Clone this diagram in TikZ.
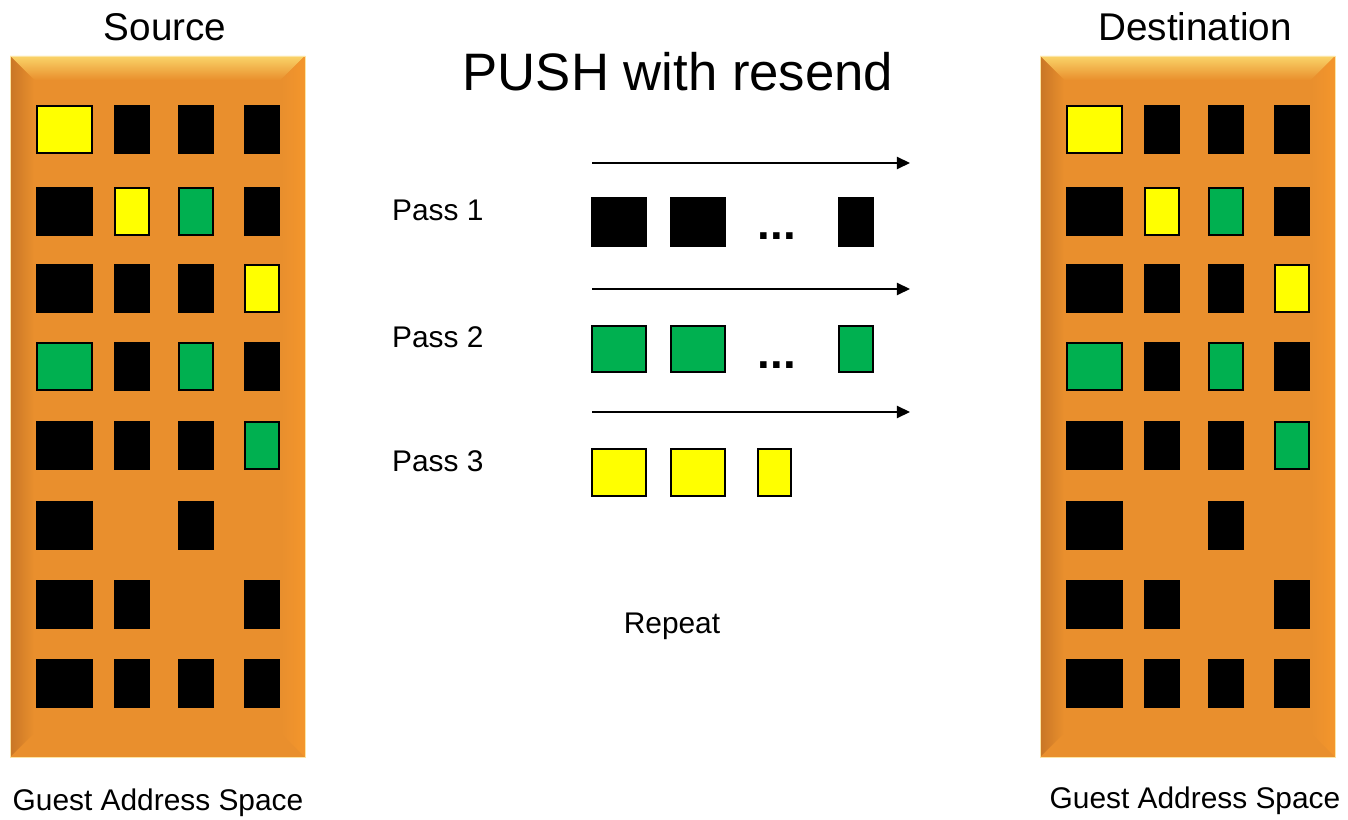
\documentclass[tikz,border=0pt]{standalone}
\usepackage{fontspec}
\setmainfont{Liberation Sans}
\usetikzlibrary{arrows.meta}

\definecolor{hausorange}{RGB}{233,143,45}
\definecolor{kantehell}{RGB}{250,212,105}
\definecolor{kantedunkel}{RGB}{200,118,38}
\definecolor{kanterechts}{RGB}{244,150,44}
\definecolor{gelb}{RGB}{255,255,0}
\definecolor{gruen}{RGB}{0,176,80}

\tikzset{
	pfeil/.style={line width=0.8pt, -{Triangle[length=7.5pt, width=7pt]}},
	gross/.style={font=\fontsize{22}{26}\selectfont},
	titelschrift/.style={font=\fontsize{30}{36}\selectfont},
	klein/.style={font=\fontsize{17}{20}\selectfont}
}

\begin{document}
\begin{tikzpicture}[x=0.02cm, y=-0.02cm]
	\useasboundingbox (0,0) rectangle (1348,820);

	% Gebaeude links und rechts
	\foreach \dx in {0,1030} {
		\fill[hausorange] (10+\dx,56) rectangle (305+\dx,757);
		\shade[top color=kantehell, bottom color=hausorange] (10+\dx,56) -- (305+\dx,56)
		-- (281+\dx,80) -- (34+\dx,80) -- cycle;
		\shade[left color=kantedunkel, right color=hausorange] (10+\dx,56) -- (34+\dx,80)
		-- (34+\dx,733) -- (10+\dx,757) -- cycle;
		\shade[left color=hausorange, right color=kanterechts] (305+\dx,56) -- (281+\dx,80)
		-- (281+\dx,733) -- (305+\dx,757) -- cycle;
		\draw[line width=0.4pt, draw=kantehell!60] (10+\dx,56) rectangle (305+\dx,757);
		% Fenster
		\foreach \c/\r/\f in {1/1/gelb, 2/1/black, 3/1/black, 4/1/black,
			1/2/black, 2/2/gelb, 3/2/gruen, 4/2/black,
			1/3/black, 2/3/black, 3/3/black, 4/3/gelb,
			1/4/gruen, 2/4/black, 3/4/gruen, 4/4/black,
			1/5/black, 2/5/black, 3/5/black, 4/5/gruen,
			1/6/black, 3/6/black,
			1/7/black, 2/7/black, 4/7/black,
			1/8/black, 2/8/black, 3/8/black, 4/8/black} {
			\pgfmathsetmacro{\xl}{{37,115,179,245}[\c-1]+\dx}
			\pgfmathsetmacro{\w}{\c==1 ? 55 : 34}
			\pgfmathsetmacro{\yt}{{106,188,265,343,422,502,581,660}[\r-1]}
			\filldraw[line width=0.7pt, draw=black, fill=\f] (\xl,\yt) rectangle (\xl+\w,\yt+47);
		}
	}

	% Beschriftungen
	\node[gross] (quelle) at (165,27) {Source};
	\node[gross] (ziel) at (1195,27) {Destination};
	\node[titelschrift] (titel) at (678,72) {PUSH with resend};
	\node[klein] (gasl) at (158,803) {Guest Address Space};
	\node[klein] (gasr) at (1195,801) {Guest Address Space};

	% Durchlaeufe
	\node[klein, anchor=west] (pass1) at (386,210) {Pass 1};
	\node[klein, anchor=west] (pass2) at (386,337) {Pass 2};
	\node[klein, anchor=west] (pass3) at (386,461) {Pass 3};
	\node[klein] (repeat) at (672,626) {Repeat};

	% Pfeile
	\coordinate (p1a) at (592,163);
	\coordinate (p1b) at (910,163);
	\coordinate (p2a) at (592,289);
	\coordinate (p2b) at (910,289);
	\coordinate (p3a) at (592,412);
	\coordinate (p3b) at (910,412);
	\draw[pfeil] (p1a) -- (p1b);
	\draw[pfeil] (p2a) -- (p2b);
	\draw[pfeil] (p3a) -- (p3b);

	% Seiten
	\foreach \x/\w in {592/54, 671/54, 839/34}
		\filldraw[line width=0.7pt, draw=black, fill=black] (\x,198) rectangle (\x+\w,246);
	\foreach \x/\w in {592/54, 671/54, 839/34}
		\filldraw[line width=0.7pt, draw=black, fill=gruen] (\x,326) rectangle (\x+\w,372);
	\foreach \x/\w in {592/54, 671/54, 758/33}
		\filldraw[line width=0.7pt, draw=black, fill=gelb] (\x,449) rectangle (\x+\w,496);
	\node[font=\fontsize{26}{30}\selectfont\bfseries] (punkte1) at (777,236) {...};
	\node[font=\fontsize{26}{30}\selectfont\bfseries] (punkte2) at (777,365) {...};
\end{tikzpicture}
\end{document}
